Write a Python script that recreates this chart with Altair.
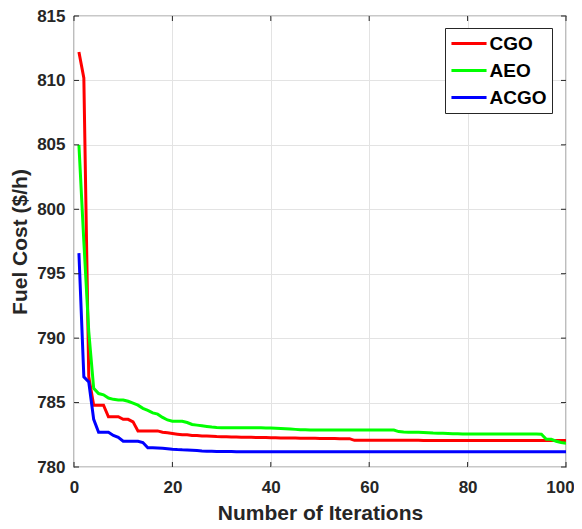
import altair as alt
import pandas as pd

iterations = list(range(1, 101))

cgo = [812.2, 810.2, 787.0, 784.8, 784.8, 784.8, 783.9, 783.9, 783.9, 783.7,
       783.7, 783.5, 782.8, 782.8, 782.8, 782.8, 782.8, 782.7, 782.65, 782.6,
       782.55, 782.5, 782.5, 782.45, 782.45, 782.4, 782.4, 782.38, 782.36, 782.35,
       782.34, 782.33, 782.32, 782.31, 782.3, 782.3, 782.29, 782.28, 782.28, 782.27,
       782.27, 782.26, 782.26, 782.25, 782.25, 782.24, 782.24, 782.23, 782.23, 782.22,
       782.22, 782.21, 782.21, 782.2, 782.2, 782.2, 782.07, 782.07, 782.07, 782.07,
       782.07, 782.07, 782.07, 782.07, 782.07, 782.07, 782.07, 782.07, 782.07, 782.07,
       782.06, 782.06, 782.06, 782.06, 782.06, 782.06, 782.06, 782.06, 782.06, 782.06,
       782.06, 782.06, 782.06, 782.06, 782.06, 782.06, 782.06, 782.06, 782.06, 782.06,
       782.05, 782.05, 782.05, 782.05, 782.05, 782.05, 782.05, 782.05, 782.05, 782.05]

aeo = [805.0, 797.5, 790.5, 786.1, 785.7, 785.6, 785.35, 785.25, 785.2, 785.2,
       785.1, 784.95, 784.8, 784.55, 784.4, 784.2, 784.1, 783.85, 783.65, 783.55,
       783.55, 783.55, 783.45, 783.3, 783.25, 783.2, 783.15, 783.1, 783.07, 783.05,
       783.05, 783.05, 783.05, 783.05, 783.05, 783.05, 783.05, 783.04, 783.03, 783.02,
       783.0, 782.98, 782.96, 782.94, 782.92, 782.9, 782.89, 782.88, 782.88, 782.88,
       782.88, 782.88, 782.88, 782.88, 782.88, 782.88, 782.88, 782.88, 782.88, 782.88,
       782.88, 782.88, 782.88, 782.88, 782.87, 782.75, 782.72, 782.7, 782.7, 782.69,
       782.67, 782.65, 782.63, 782.62, 782.61, 782.6, 782.59, 782.58, 782.57, 782.57,
       782.56, 782.56, 782.56, 782.56, 782.56, 782.56, 782.56, 782.56, 782.56, 782.56,
       782.56, 782.56, 782.56, 782.56, 782.55, 782.15, 782.15, 782.0, 781.9, 781.85]

acgo = [796.6, 787.0, 786.6, 783.7, 782.7, 782.7, 782.7, 782.45, 782.3, 782.0,
        782.0, 782.0, 782.0, 781.9, 781.5, 781.5, 781.48, 781.45, 781.42, 781.38,
        781.35, 781.33, 781.32, 781.3, 781.28, 781.25, 781.23, 781.22, 781.21, 781.2,
        781.2, 781.2, 781.19, 781.19, 781.19, 781.19, 781.19, 781.19, 781.19, 781.19,
        781.18, 781.18, 781.18, 781.18, 781.18, 781.18, 781.18, 781.18, 781.18, 781.18,
        781.18, 781.18, 781.18, 781.18, 781.18, 781.18, 781.18, 781.18, 781.18, 781.18,
        781.18, 781.18, 781.18, 781.18, 781.18, 781.18, 781.18, 781.18, 781.18, 781.18,
        781.18, 781.18, 781.18, 781.18, 781.18, 781.18, 781.18, 781.18, 781.18, 781.18,
        781.18, 781.18, 781.18, 781.18, 781.18, 781.18, 781.18, 781.18, 781.18, 781.18,
        781.18, 781.18, 781.18, 781.18, 781.18, 781.18, 781.18, 781.18, 781.18, 781.18]

series_names = ["CGO", "AEO", "ACGO"]
series_colors = ["#ff0000", "#00ff00", "#0000ff"]
x_ticks = [0, 20, 40, 60, 80, 100]
y_ticks = [780, 785, 790, 795, 800, 805, 810, 815]

W, H = 492, 451
FONT = "Liberation Sans"
TXT = "#262626"

rows = []
for name, vals in zip(series_names, [cgo, aeo, acgo]):
    for i, v in zip(iterations, vals):
        rows.append({"Iteration": i, "Cost": v, "Algorithm": name,
                     "order": series_names.index(name)})
df = pd.DataFrame(rows)

xscale = alt.Scale(domain=[0, 100], nice=False, zero=False)
yscale = alt.Scale(domain=[780, 815], nice=False, zero=False)

lines = alt.Chart(df).mark_line(strokeWidth=3, clip=True).encode(
    x=alt.X("Iteration:Q", scale=xscale,
            axis=alt.Axis(values=x_ticks, title="Number of Iterations",
                          tickSize=0, labelPadding=12, titlePadding=7,
                          labelFlush=False, domain=False, grid=True,
                          labelOffset={"condition": {"test": "datum.value == 100", "value": -6},
                                       "value": 0})),
    y=alt.Y("Cost:Q", scale=yscale,
            axis=alt.Axis(values=y_ticks, title="Fuel Cost ($/h)",
                          tickSize=0, labelPadding=9, titlePadding=6,
                          labelFlush=False, domain=False, grid=True)),
    color=alt.Color("Algorithm:N",
                    scale=alt.Scale(domain=series_names, range=series_colors),
                    legend=alt.Legend(title=None, orient="none", legendX=371, legendY=12,
                                      symbolType="M-1.95,0H1.95", symbolSize=324,
                                      symbolStrokeWidth=3, symbolOffset=8.5,
                                      labelFontSize=19,
                                      labelFontWeight="bold", labelFont=FONT,
                                      labelColor="#000000",
                                      strokeColor="#262626", fillColor="#ffffff",
                                      padding=5, rowPadding=6, labelOffset=10)),
    order=alt.Order("order:Q"),
    detail="Algorithm:N",
)

xt = pd.DataFrame({"v": x_ticks})
yt = pd.DataFrame({"v": y_ticks})

xtick_bottom = alt.Chart(xt).mark_rule(color=TXT, strokeWidth=1).encode(
    x=alt.X("v:Q", scale=xscale), y=alt.value(H), y2=alt.value(H - 5))
xtick_top = alt.Chart(xt).mark_rule(color=TXT, strokeWidth=1).encode(
    x=alt.X("v:Q", scale=xscale), y=alt.value(0), y2=alt.value(5))
ytick_left = alt.Chart(yt).mark_rule(color=TXT, strokeWidth=1).encode(
    y=alt.Y("v:Q", scale=yscale), x=alt.value(0), x2=alt.value(5))
ytick_right = alt.Chart(yt).mark_rule(color=TXT, strokeWidth=1).encode(
    y=alt.Y("v:Q", scale=yscale), x=alt.value(W - 5), x2=alt.value(W))

chart = alt.layer(lines, xtick_bottom, xtick_top, ytick_left, ytick_right).properties(
    width=W, height=H,
    autosize=alt.AutoSizeParams(type="none"),
    padding={"left": 66, "top": 8, "right": 8, "bottom": 62},
).configure_view(
    stroke=TXT, strokeWidth=1.2
).configure_axis(
    labelFont=FONT, labelFontSize=17, labelFontWeight="bold", labelColor=TXT,
    titleFont=FONT, titleFontSize=21, titleFontWeight="bold", titleColor=TXT,
    gridColor="#e3e3e3", gridWidth=1
)

chart.save("out.html", embed_options={"renderer": "svg", "actions": False})
